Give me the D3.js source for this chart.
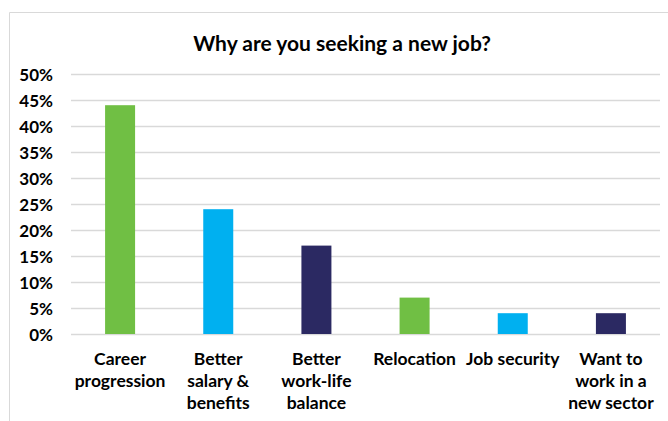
<!DOCTYPE html>
<html>
<head>
<meta charset="utf-8">
<script src="https://cdn.jsdelivr.net/npm/d3@7"></script>
<style>
  body { margin: 0; background: #fff; }
  text { font-family: Lato, "Open Sans", sans-serif; font-weight: bold; fill: #000; }
</style>
</head>
<body>
<svg id="chart" width="668" height="421"></svg>
<script>
// chart data
var categories = [
  ["Career", "progression"],
  ["Better", "salary &", "benefits"],
  ["Better", "work-life", "balance"],
  ["Relocation"],
  ["Job security"],
  ["Want to", "work in a", "new sector"]
];
var values = [0.44, 0.24, 0.17, 0.07, 0.04, 0.04];
var barColors = ["#70bf44", "#00b0f0", "#2b2962", "#70bf44", "#00b0f0", "#2b2962"];
var yTicks = [0, 0.05, 0.10, 0.15, 0.20, 0.25, 0.30, 0.35, 0.40, 0.45, 0.50];

var svg = d3.select("#chart");
//plot area edges
var plotLeft = 71, plotRight = 660, plotTop = 74, plotBottom = 334;

//outer frame of the chart (runs off right and bottom)
svg.append("path")
  .attr("d", "M9.5,421 V12.5 H668")
  .attr("fill", "none")
  .attr("stroke", "#d9d9d9")
  .attr("stroke-width", 1);

//title
svg.append("text")
  .attr("x", 342)
  .attr("y", 51)
  .attr("text-anchor", "middle")
  .attr("font-size", 21)
  .text("Why are you seeking a new job?");

var x = d3.scaleBand()
  .domain(d3.range(values.length))
  .range([plotLeft, plotRight]);

var y = d3.scaleLinear()
  .domain([0, 0.5])
  .range([plotBottom, plotTop]);

//gridlines + y labels
var yAxis = svg.append("g")
  .attr("transform", "translate(" + plotLeft + ",0)")
  .call(d3.axisLeft(y).tickValues(yTicks).tickFormat(d3.format(".0%")).tickSize(-(plotRight - plotLeft)).tickPadding(18));
yAxis.select(".domain").remove();
yAxis.selectAll(".tick line").attr("stroke", "#d9d9d9").attr("stroke-width", 1.3);
yAxis.selectAll(".tick text")
  .attr("font-size", 17)
  .attr("font-family", "Lato, 'Open Sans', sans-serif")
  .attr("font-weight", "bold")
  .attr("fill", "#000")
  .attr("dy", "0.36em");

//bars
var barWidth = 30;
svg.selectAll("rect.bar")
  .data(values)
  .enter()
  .append("rect")
  .attr("class", "bar")
  .attr("x", function(d, i) { return x(i) + x.bandwidth() / 2 - barWidth / 2; })
  .attr("y", function(d) { return y(d); })
  .attr("width", barWidth)
  .attr("height", function(d) { return y(0) - y(d); })
  .attr("fill", function(d, i) { return barColors[i]; });

//category labels, one tspan per line
var labels = svg.selectAll("text.cat")
  .data(categories)
  .enter()
  .append("text")
  .attr("class", "cat")
  .attr("text-anchor", "middle")
  .attr("font-size", 17.5)
  .attr("x", function(d, i) { return x(i) + x.bandwidth() / 2; })
  .attr("y", 365);
labels.selectAll("tspan")
  .data(function(d) { return d; })
  .enter()
  .append("tspan")
  .attr("x", function() { return d3.select(this.parentNode).attr("x"); })
  .attr("dy", function(d, i) { return i === 0 ? 0 : 22; })
  .text(function(d) { return d; });
</script>
</body>
</html>
